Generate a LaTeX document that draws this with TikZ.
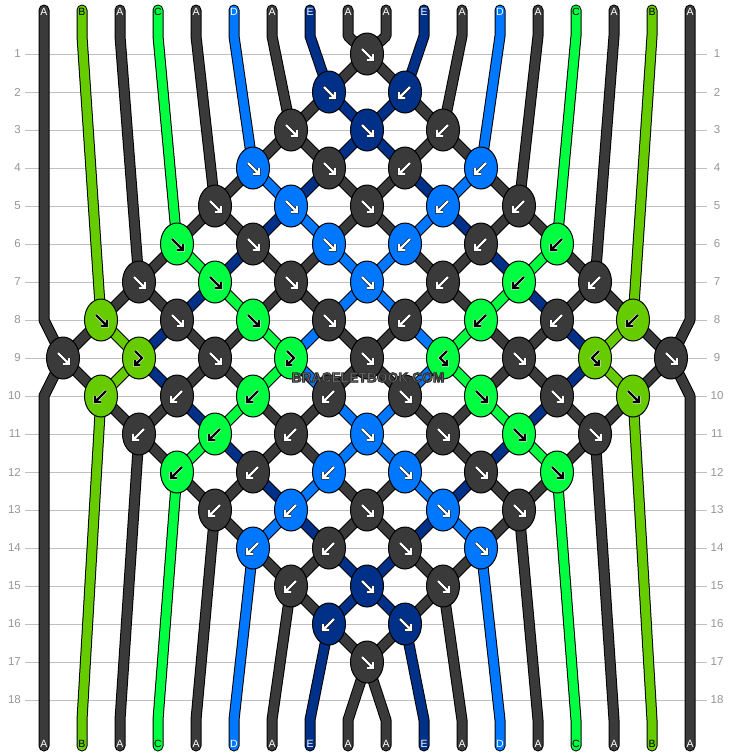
\documentclass[tikz,border=0pt]{standalone}
\usepackage{fontspec}
\setmainfont{Liberation Sans}
\usetikzlibrary{shapes.geometric}

\definecolor{cA}{RGB}{58,58,58}
\definecolor{cB}{RGB}{102,204,0}
\definecolor{cC}{RGB}{0,255,64}
\definecolor{cD}{RGB}{0,119,255}
\definecolor{cE}{RGB}{0,48,135}
\colorlet{tA}{white}\colorlet{tB}{black}\colorlet{tC}{black}\colorlet{tD}{white}\colorlet{tE}{white}
\colorlet{oA}{black}\colorlet{oB}{white}\colorlet{oC}{white}\colorlet{oD}{black}\colorlet{oE}{black}
\definecolor{numgray}{RGB}{150,150,150}
\definecolor{rulegray}{RGB}{192,192,192}
\definecolor{stampgray}{RGB}{118,118,118}

\newcommand\tipfwd{(-5,-5) -- (6,6) (0,6) -- (6,6) -- (6,0)}
\newcommand\tipbwd{(5,-5) -- (-6,6) (0,6) -- (-6,6) -- (-6,0)}
\newcommand\tipfb{(-4,-7) -- (3,0) -- (-4,7) (1,7) -- (-4,7) -- (-4,2)}
\newcommand\tipbf{(4,-7) -- (-3,0) -- (4,7) (-1,7) -- (4,7) -- (4,2)}
\newcommand\outlined[1]{\special{pdf:literal direct 2 Tr 0.9 w 0.18 G}#1\special{pdf:literal direct 0 Tr}}

\tikzset{
    thread/.style={draw=black, line width=1pt, double=#1, double distance=9pt, line cap=round, line join=round},
    knot/.style={ellipse, draw=black, line width=1pt, minimum width=33pt, minimum height=42pt, inner sep=0pt},
    arrowpen/.style={draw=o#1, double=t#1, line width=0.6pt, double distance=2.2pt, line join=miter},
    lab/.style={font=\fontsize{10.5}{11}\selectfont, inner sep=0pt},
    num/.style={font=\fontsize{11.5}{12}\selectfont, text=numgray, inner sep=0pt},
    rule/.style={draw=rulegray, line width=1pt},
    stamp/.style={font=\fontsize{13.8}{14}\selectfont\bfseries, text=stampgray, inner sep=0pt},
}

\begin{document}
\begin{tikzpicture}[x=1pt, y=-1pt]
    \fill[white] (0,0) rectangle (734,756);
    \useasboundingbox (0,0) rectangle (734,756);

    \foreach \row in {1,...,18} {
        \foreach \pos in {1,...,18} {
            \coordinate (s\row-\pos) at ({44+38*(\pos-1)},{54+38*(\row-1)});
            \coordinate (k\row-\pos) at ({63+38*(\pos-1)},{54+38*(\row-1)});
        }
        \coordinate (gL\row) at (25,{54+38*(\row-1)});
        \coordinate (gR\row) at (707,{54+38*(\row-1)});
        \draw[rule] (gL\row) -- (gR\row);
        \node[num, anchor=east] (nl\row) at (21,{54+38*(\row-1)}) {\row};
        \node[num] (nr\row) at (717,{54+38*(\row-1)}) {\row};
    }
    \foreach \pos in {1,...,18} {
        \coordinate (top\pos) at ({44+38*(\pos-1)},10);
        \coordinate (tb\pos) at ({44+38*(\pos-1)},36);
        \coordinate (bb\pos) at ({44+38*(\pos-1)},720);
        \coordinate (bot\pos) at ({44+38*(\pos-1)},746);
    }

    \draw[thread=cA] (top1) -- (s8-1) -- (k9-1) -- (k10-2) -- (k11-3) -- (k12-4) -- (k13-5) -- (k14-6) -- (k15-7) -- (k16-8) -- (k17-9) -- (bb10) -- (bot10);
    \draw[thread=cB] (top2) -- (tb2) -- (k8-2) -- (k9-3) -- (k10-2) -- (bb2) -- (bot2);
    \draw[thread=cA] (top3) -- (tb3) -- (k7-3) -- (k8-4) -- (k9-5) -- (k10-6) -- (k11-7) -- (k12-8) -- (k13-9) -- (k14-10) -- (k15-11) -- (bb12) -- (bot12);
    \draw[thread=cC] (top4) -- (tb4) -- (k6-4) -- (k7-5) -- (k8-6) -- (k9-7) -- (k10-6) -- (k11-5) -- (k12-4) -- (bb4) -- (bot4);
    \draw[thread=cA] (top5) -- (tb5) -- (k5-5) -- (k6-6) -- (k7-7) -- (k8-8) -- (k9-9) -- (k10-10) -- (k11-11) -- (k12-12) -- (k13-13) -- (bb14) -- (bot14);
    \draw[thread=cD] (top6) -- (tb6) -- (k4-6) -- (k5-7) -- (k6-8) -- (k7-9) -- (k8-10) -- (k9-11) -- (k10-10) -- (k11-9) -- (k12-8) -- (k13-7) -- (k14-6) -- (bb6) -- (bot6);
    \draw[thread=cA] (top7) -- (tb7) -- (k3-7) -- (k4-8) -- (k5-9) -- (k6-10) -- (k7-11) -- (k8-12) -- (k9-13) -- (k10-14) -- (k11-15) -- (bb16) -- (bot16);
    \draw[thread=cE] (top8) -- (tb8) -- (k2-8) -- (k3-9) -- (k4-10) -- (k5-11) -- (k6-12) -- (k7-13) -- (k8-14) -- (k9-15) -- (k10-14) -- (k11-13) -- (k12-12) -- (k13-11) -- (k14-10) -- (k15-9) -- (k16-8) -- (bb8) -- (bot8);
    \draw[thread=cA] (top9) -- (tb9) -- (k1-9) -- (k2-10) -- (k3-11) -- (k4-12) -- (k5-13) -- (k6-14) -- (k7-15) -- (k8-16) -- (k9-17) -- (s10-18) -- (bot18);
    \draw[thread=cA] (top10) -- (tb10) -- (k1-9) -- (k2-8) -- (k3-7) -- (k4-6) -- (k5-5) -- (k6-4) -- (k7-3) -- (k8-2) -- (k9-1) -- (s10-1) -- (bot1);
    \draw[thread=cE] (top11) -- (tb11) -- (k2-10) -- (k3-9) -- (k4-8) -- (k5-7) -- (k6-6) -- (k7-5) -- (k8-4) -- (k9-3) -- (k10-4) -- (k11-5) -- (k12-6) -- (k13-7) -- (k14-8) -- (k15-9) -- (k16-10) -- (bb11) -- (bot11);
    \draw[thread=cA] (top12) -- (tb12) -- (k3-11) -- (k4-10) -- (k5-9) -- (k6-8) -- (k7-7) -- (k8-6) -- (k9-5) -- (k10-4) -- (k11-3) -- (bb3) -- (bot3);
    \draw[thread=cD] (top13) -- (tb13) -- (k4-12) -- (k5-11) -- (k6-10) -- (k7-9) -- (k8-8) -- (k9-7) -- (k10-8) -- (k11-9) -- (k12-10) -- (k13-11) -- (k14-12) -- (bb13) -- (bot13);
    \draw[thread=cA] (top14) -- (tb14) -- (k5-13) -- (k6-12) -- (k7-11) -- (k8-10) -- (k9-9) -- (k10-8) -- (k11-7) -- (k12-6) -- (k13-5) -- (bb5) -- (bot5);
    \draw[thread=cC] (top15) -- (tb15) -- (k6-14) -- (k7-13) -- (k8-12) -- (k9-11) -- (k10-12) -- (k11-13) -- (k12-14) -- (bb15) -- (bot15);
    \draw[thread=cA] (top16) -- (tb16) -- (k7-15) -- (k8-14) -- (k9-13) -- (k10-12) -- (k11-11) -- (k12-10) -- (k13-9) -- (k14-8) -- (k15-7) -- (bb7) -- (bot7);
    \draw[thread=cB] (top17) -- (tb17) -- (k8-16) -- (k9-15) -- (k10-16) -- (bb17) -- (bot17);
    \draw[thread=cA] (top18) -- (s8-18) -- (k9-17) -- (k10-16) -- (k11-15) -- (k12-14) -- (k13-13) -- (k14-12) -- (k15-11) -- (k16-10) -- (k17-9) -- (bb9) -- (bot9);

    \foreach \col [count=\pos] in {A,B,A,C,A,D,A,E,A,A,E,A,D,A,C,A,B,A} {
        \node[lab, text=t\col, yshift=-2pt] (lt\pos) at (top\pos) {\col};
    }
    \foreach \col [count=\pos] in {A,B,A,C,A,D,A,E,A,A,E,A,D,A,C,A,B,A} {
        \node[lab, text=t\col, yshift=2pt] (lb\pos) at (bot\pos) {\col};
    }

    \foreach \row/\pos/\col/\typ in {1/9/A/fwd, 2/8/E/fwd, 2/10/E/bwd,
            3/7/A/fwd, 3/9/E/fwd, 3/11/A/bwd,
            4/6/D/fwd, 4/8/A/fwd, 4/10/A/bwd, 4/12/D/bwd,
            5/5/A/fwd, 5/7/D/fwd, 5/9/A/fwd, 5/11/D/bwd, 5/13/A/bwd,
            6/4/C/fwd, 6/6/A/fwd, 6/8/D/fwd, 6/10/D/bwd, 6/12/A/bwd, 6/14/C/bwd,
            7/3/A/fwd, 7/5/C/fwd, 7/7/A/fwd, 7/9/D/fwd, 7/11/A/bwd, 7/13/C/bwd, 7/15/A/bwd,
            8/2/B/fwd, 8/4/A/fwd, 8/6/C/fwd, 8/8/A/fwd, 8/10/A/bwd, 8/12/C/bwd, 8/14/A/bwd, 8/16/B/bwd,
            9/1/A/fwd, 9/3/B/fb, 9/5/A/fwd, 9/7/C/fb, 9/9/A/fwd, 9/11/C/bf, 9/13/A/fwd, 9/15/B/bf, 9/17/A/fwd,
            10/2/B/bwd, 10/4/A/bwd, 10/6/C/bwd, 10/8/A/bwd, 10/10/A/fwd, 10/12/C/fwd, 10/14/A/fwd, 10/16/B/fwd,
            11/3/A/bwd, 11/5/C/bwd, 11/7/A/bwd, 11/9/D/fwd, 11/11/A/fwd, 11/13/C/fwd, 11/15/A/fwd,
            12/4/C/bwd, 12/6/A/bwd, 12/8/D/bwd, 12/10/D/fwd, 12/12/A/fwd, 12/14/C/fwd,
            13/5/A/bwd, 13/7/D/bwd, 13/9/A/fwd, 13/11/D/fwd, 13/13/A/fwd,
            14/6/D/bwd, 14/8/A/bwd, 14/10/A/fwd, 14/12/D/fwd,
            15/7/A/bwd, 15/9/E/fwd, 15/11/A/fwd,
            16/8/E/bwd, 16/10/E/fwd,
            17/9/A/fwd} {
        \node[knot, fill=c\col] (n\row-\pos) at (k\row-\pos) {};
        \draw[arrowpen=\col, shift={(k\row-\pos)}] \csname tip\typ\endcsname;
    }

    \node[stamp] (wm) at (368,377.5) {\outlined{BRACELETBOOK.COM}};
\end{tikzpicture}
\end{document}
